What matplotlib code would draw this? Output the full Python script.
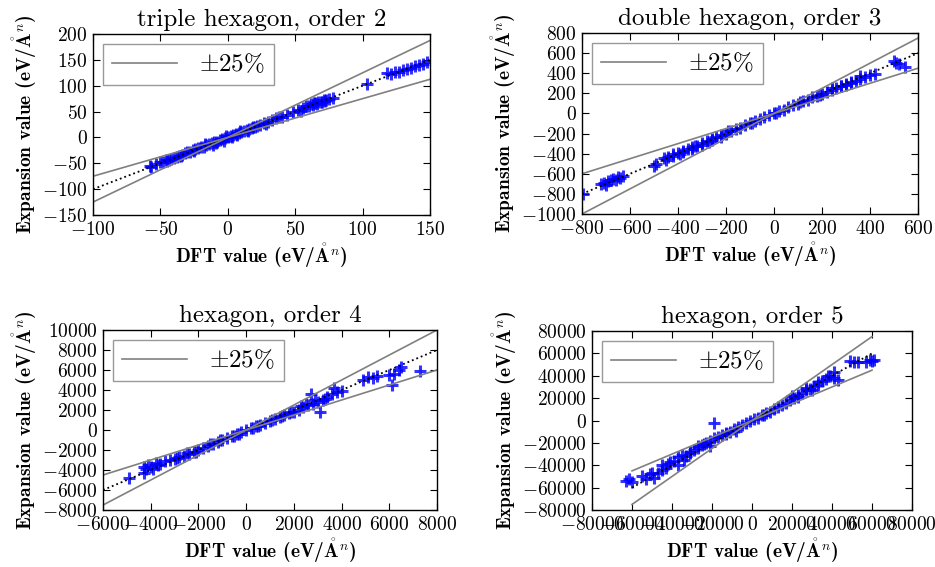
import numpy as np
import matplotlib
matplotlib.use('Agg')
from matplotlib import pyplot as plt
from matplotlib.ticker import MultipleLocator

plt.rcParams['font.family'] = ['cmr10', 'DejaVu Serif']
plt.rcParams['mathtext.fontset'] = 'cm'
plt.rcParams['axes.formatter.use_mathtext'] = True
plt.rcParams['axes.unicode_minus'] = True

# ---- data ----
titles = ['triple hexagon, order 2', 'double hexagon, order 3',
          'hexagon, order 4', 'hexagon, order 5']

dft_o2 = [-58, -57, -53, -50, -48, -46, -44, -42, -40, -38,
          -36, -34, -32, -30, -28, -26, -24, -22, -20, -18,
          -16, -14, -12, -10, -8, -6, -4, -2, 0, 2,
          4, 6, 8, 10, 12, 14, 16, 18, 20, 22,
          24, 27, 30, 33, 36, 40, 44, 48, 52, 56,
          58, 60, 62, 63, 65, 67, 69, 71, 73, 75,
          78, 103, 118, 121, 124, 127, 130, 133, 136, 139,
          142, 145, 148,
          -17, -9, -3, 3, 9, 15, 64, 66, 70, 72,
          -45, -35, -25, -11, -1, 7, 19, 28, 38, 54]
exp_o2 = [-55, -57, -51, -48, -47, -44, -43, -41, -40, -37,
          -35, -33, -30, -29, -28, -25, -22, -21, -19, -18,
          -15, -13, -11, -9, -8, -5, -3, -1, 1, 3,
          4, 7, 8, 11, 12, 15, 17, 18, 20, 22,
          24, 27, 29, 33, 37, 40, 44, 49, 53, 57,
          60, 61, 64, 62, 66, 68, 68, 72, 73, 74,
          77, 104, 124, 122, 127, 126, 131, 133, 135, 138,
          140, 142, 146,
          -13, -11, -6, 1, 12, 13, 66, 64, 69, 70,
          -46, -36, -27, -14, 2, 5, 21, 26, 39, 52]

dft_o3 = [-795, -720, -710, -700, -690, -680, -670, -660, -650, -640,
          -630, -500, -490, -460, -440, -420, -400, -380, -360, -340,
          -320, -300, -280, -260, -240, -220, -200, -180, -160, -140,
          -120, -100, -80, -60, -40, -20, 0, 20, 40, 60,
          80, 100, 120, 140, 160, 180, 200, 220, 240, 260,
          280, 300, 320, 340, 360, 380, 400, 420, 500, 510,
          520, 545,
          -420, -380, -340, -300, -260, -220, 240, 280, 320, 360,
          -450, -390, -330, -270, -190, -90, 10, 110, 190, 300]
exp_o3 = [-800, -700, -690, -710, -670, -665, -650, -660, -630, -640,
          -620, -520, -500, -440, -430, -420, -390, -370, -350, -330,
          -320, -290, -270, -260, -230, -210, -200, -170, -150, -140,
          -115, -100, -75, -60, -40, -15, 0, 20, 35, 60,
          80, 95, 120, 135, 160, 175, 195, 210, 235, 250,
          270, 290, 305, 320, 345, 360, 380, 395, 520, 500,
          490, 460,
          -400, -380, -350, -310, -250, -230, 250, 275, 310, 370,
          -460, -405, -320, -280, -175, -95, 5, 115, 180, 280]

dft_o4 = [-4900, -4300, -4200, -4100, -4000, -3800, -3600, -3400, -3200, -3000,
          -2800, -2600, -2400, -2200, -2000, -1800, -1600, -1400, -1200, -1000,
          -800, -600, -400, -200, 0, 200, 400, 600, 800, 1000,
          1200, 1400, 1600, 1800, 2000, 2200, 2400, 2600, 2700, 2800,
          3000, 3100, 3200, 3400, 3600, 3800, 4000, 4900, 5100, 5300,
          5500, 6000, 6200, 6400, 6500, 6100, 7300,
          -4300, -3900, -2500, -1500, -500, 500, 1500, 2500, 3300, 3700,
          -3700, -2900, -2100, -1100, -300, 300, 1100, 1900, 2300, 2900]
exp_o4 = [-4800, -3700, -3900, -3500, -3700, -3300, -3400, -3100, -3000, -2900,
          -2700, -2600, -2400, -2200, -2000, -1800, -1600, -1350, -1200, -1000,
          -800, -600, -400, -200, 0, 200, 400, 550, 750, 950,
          1150, 1300, 1500, 1700, 1850, 2050, 2300, 2500, 3600, 2600,
          2800, 1800, 3000, 3300, 3600, 3800, 3900, 5000, 5300, 5200,
          5400, 5500, 5600, 6000, 6300, 4500, 5900,
          -4300, -3900, -2300, -1400, -600, 450, 1400, 2600, 3100, 4200,
          -3500, -2800, -2200, -1000, -350, 250, 1000, 1800, 2400, 3000]

dft_o5 = [-63000, -61500, -60000, -55000, -53000, -51000, -49000, -47000, -45000, -43000,
          -41000, -39000, -37000, -35000, -33000, -31000, -29000, -27000, -25000, -23000,
          -21000, -19000, -17000, -15000, -13000, -11000, -9000, -7000, -5000, -3000,
          -1000, 1000, 3000, 5000, 7000, 9000, 11000, 13000, 15000, 17000,
          19000, 21000, 23000, 25000, 27000, 29000, 31000, 33000, 35000, 37000,
          39000, 41000, 43000, 49000, 51000, 53000, 57000, 59000, 61000, -19000,
          -45000, -37000, -31000, -27000, -21000, -13000, 23000, 27000, 33000, 41000,
          -50000, -42000, -34000, -24000, -8000, 6000, 20000, 30000, 38000, 60000]
exp_o5 = [-54000, -52000, -55000, -50000, -52000, -48000, -51000, -47000, -40000, -42000,
          -37000, -36000, -33000, -31000, -32000, -28000, -26000, -23000, -22000, -20000,
          -18000, -16000, -15000, -13000, -11000, -10000, -8000, -6000, -4000, -2500,
          -500, 1000, 2500, 4500, 6500, 8000, 10000, 12000, 14000, 16000,
          18000, 20000, 23000, 25000, 27000, 28000, 31000, 32000, 35000, 37000,
          40000, 38000, 36000, 53000, 52000, 52000, 52000, 54000, 54000, -2000,
          -44000, -40000, -29000, -25000, -23000, -12000, 21000, 29000, 34000, 43000,
          -47000, -39000, -35000, -21000, -9000, 5000, 22000, 27000, 40000, 53000]

errors = [3, 15, 150, 1500]            # typical error bar per panel
line_ranges = [(-100, 150), (-800, 600), (-6000, 8000), (-60000, 60000)]
xlims = [(-100, 150), (-800, 600), (-6000, 8000), (-80000, 80000)]
ylims = [(-150, 200), (-1000, 800), (-8000, 10000), (-80000, 80000)]
xsteps = [50, 200, 2000, 20000]
ysteps = [50, 200, 2000, 20000]
tolerance = 0.25

dfts = [dft_o2, dft_o3, dft_o4, dft_o5]
exps = [exp_o2, exp_o3, exp_o4, exp_o5]

positions = [[0.0995, 0.6208, 0.3604, 0.3192],
             [0.6225, 0.6226, 0.3594, 0.3192],
             [0.1102, 0.1005, 0.3572, 0.3175],
             [0.6332, 0.1005, 0.3422, 0.3157]]

unit = r'(eV/$\mathbf{\mathring{A}}^n$)'
bold_fonts = ['cmb10', 'DejaVu Serif']

fig = plt.figure(figsize=(9.35, 5.67), dpi=100)

for i in range(4):
    ax = fig.add_axes(positions[i])
    x = np.array(dfts[i])
    y = np.array(exps[i])

    ax.errorbar(x, y, yerr=errors[i], xerr=errors[i] * 0.6, fmt='none',
                ecolor='b', alpha=0.25, lw=2)
    ax.plot(x, y, '+', color='b', ms=8, mew=2.2, alpha=0.8)

    lo, hi = line_ranges[i]
    ref = np.array([lo, hi])
    ax.plot(ref, ref, ':', color='k', lw=1.3)
    ax.plot(ref, (1 + tolerance) * ref, '-', color='0.5', lw=1.2,
            label=r'$\pm25\%$')
    ax.plot(ref, (1 - tolerance) * ref, '-', color='0.5', lw=1.2)

    ax.set_xlim(*xlims[i])
    ax.set_ylim(*ylims[i])
    ax.xaxis.set_major_locator(MultipleLocator(xsteps[i]))
    ax.yaxis.set_major_locator(MultipleLocator(ysteps[i]))
    ax.tick_params(direction='in', top=True, right=True, length=5,
                   labelsize=14, pad=4)
    for s in ax.spines.values():
        s.set_linewidth(1.0)

    ax.set_title(titles[i], fontsize=18, pad=6)
    ax.set_xlabel('DFT value ' + unit, fontfamily=bold_fonts,
                  fontsize=14, labelpad=2)
    ax.set_ylabel('Expansion value ' + unit, fontfamily=bold_fonts,
                  fontsize=14, labelpad=2)

    leg = ax.legend(loc='upper left', fontsize=18, handlelength=2.6,
                    fancybox=False, borderpad=0.35, handletextpad=0.9,
                    borderaxespad=0.4)
    leg.get_frame().set_edgecolor('0.5')
    leg.get_frame().set_linewidth(1.0)

fig.savefig('out.png', dpi=100, facecolor='white')
